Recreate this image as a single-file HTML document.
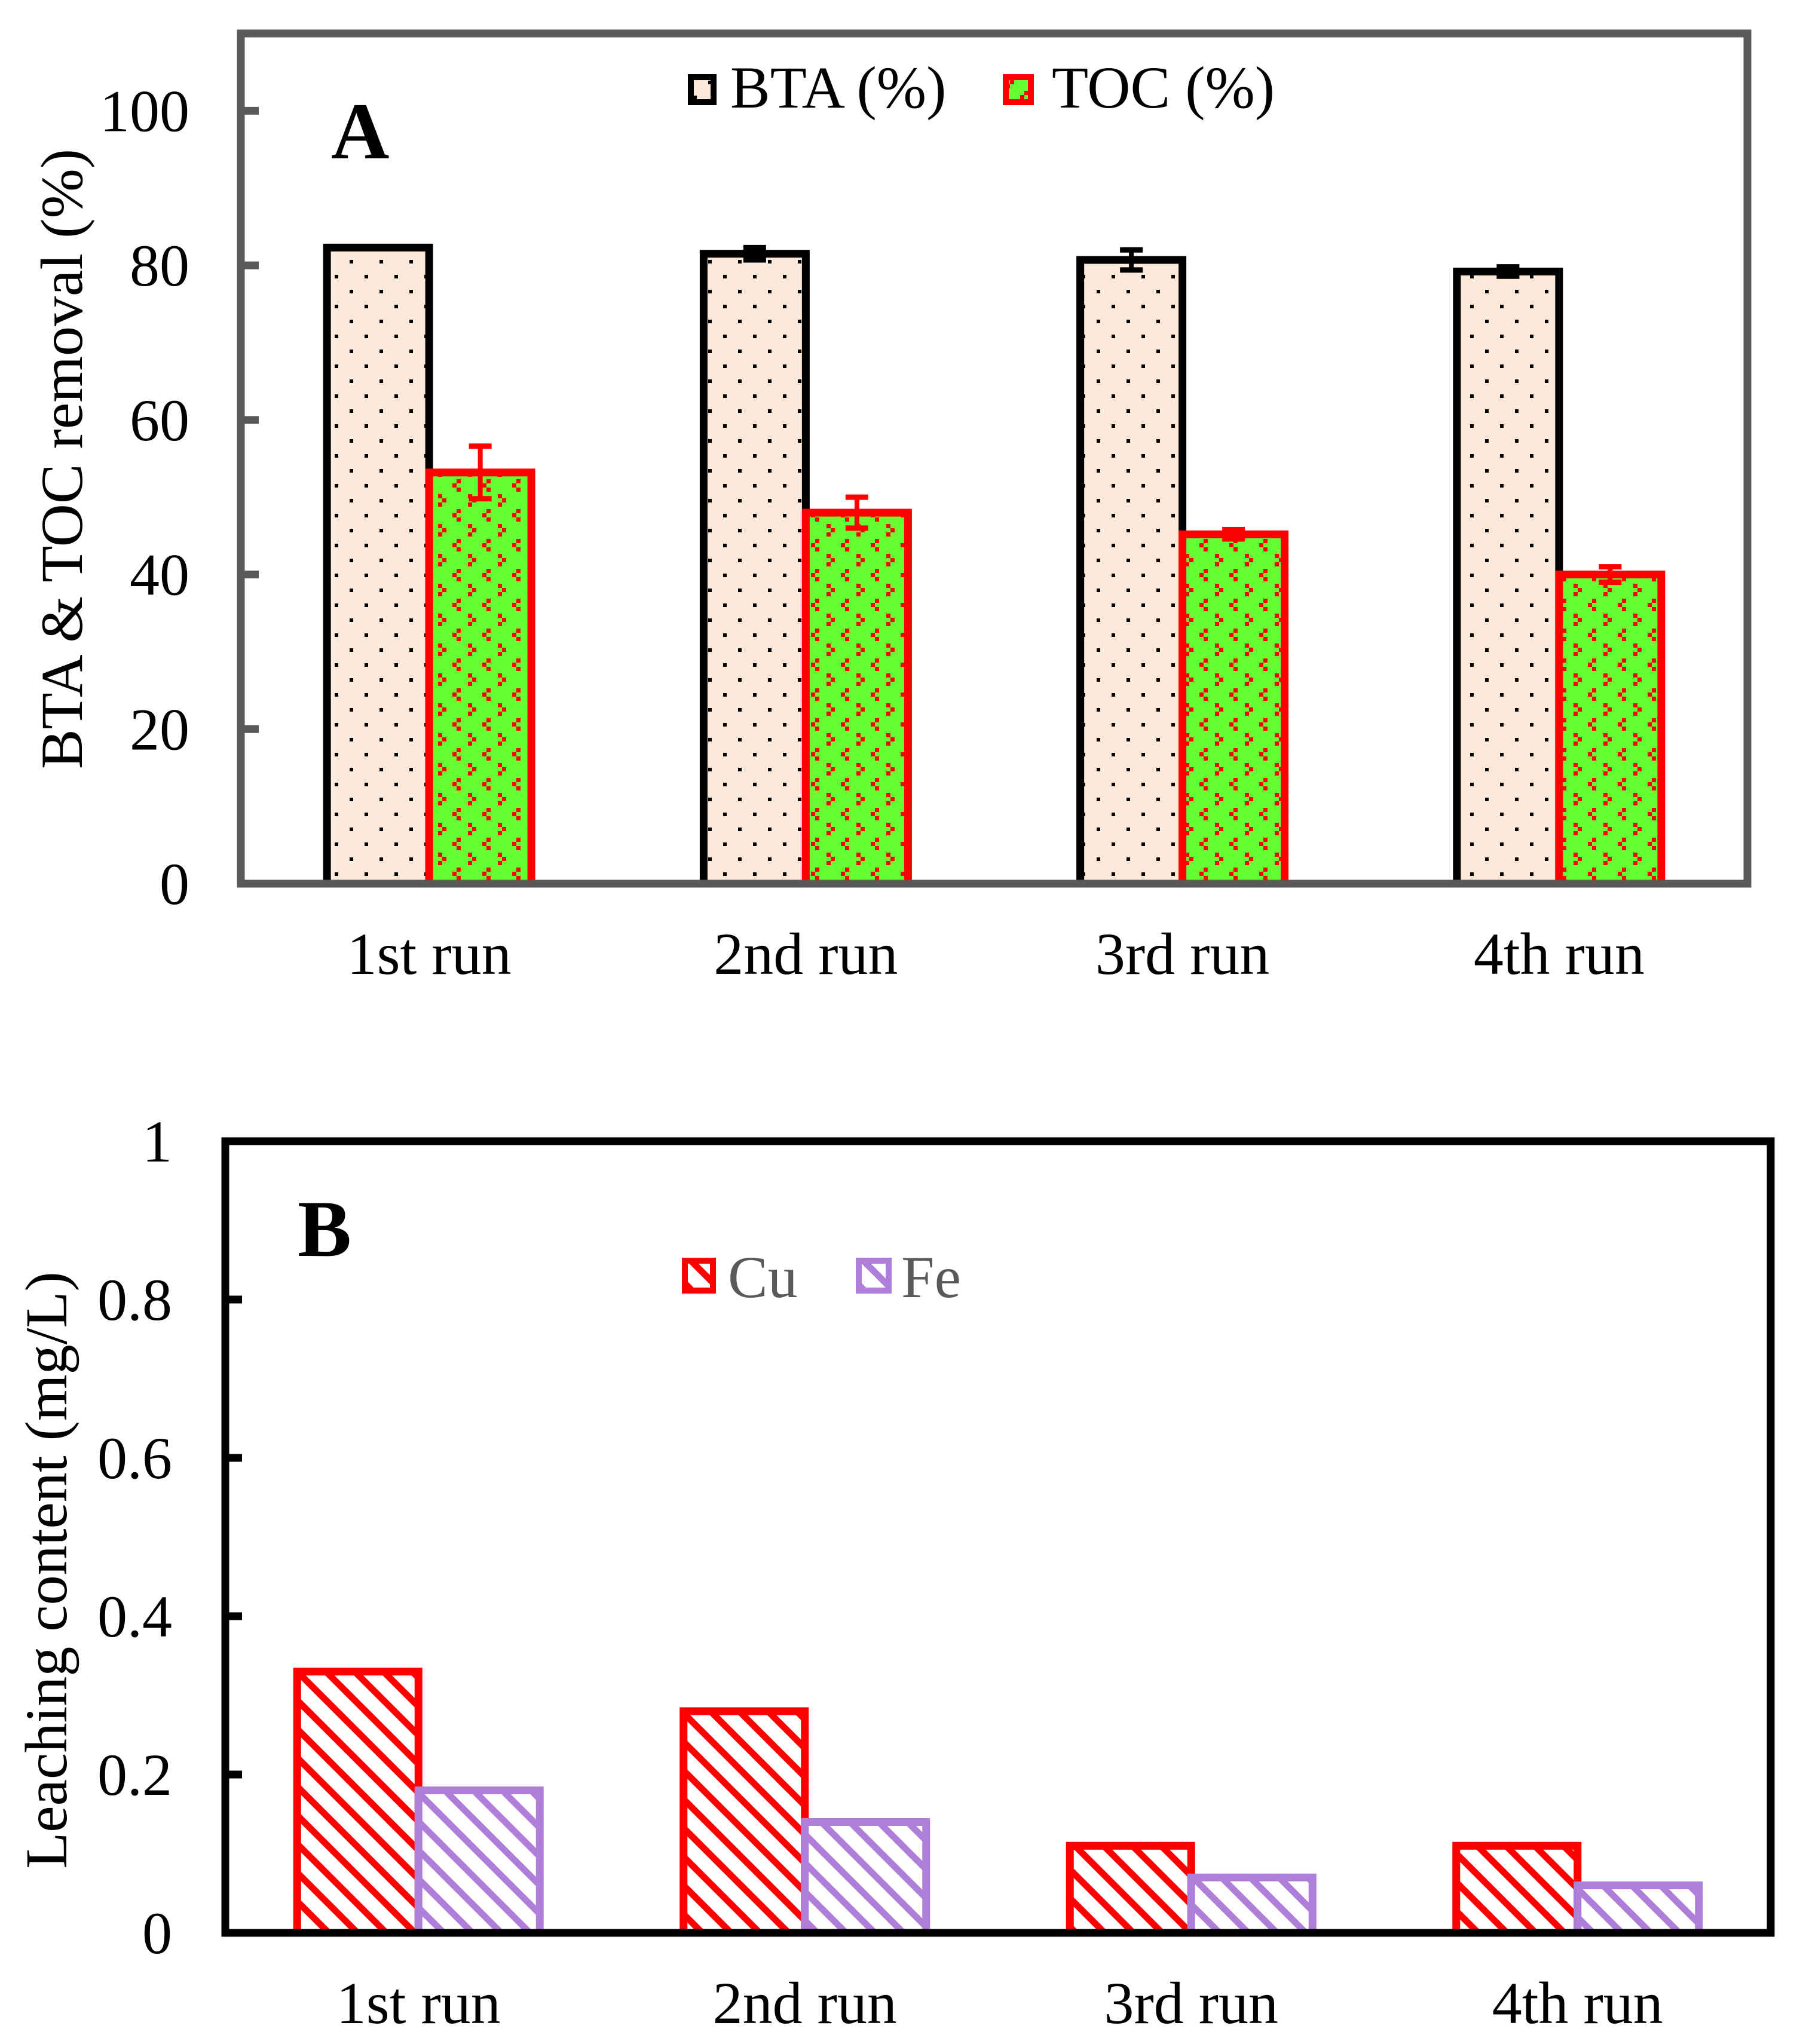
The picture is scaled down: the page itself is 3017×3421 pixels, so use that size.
<!DOCTYPE html>
<html><head><meta charset="utf-8"><style>
html,body{margin:0;padding:0;background:#fff;}
svg{display:block;}
text{font-family:"Liberation Serif","Times New Roman",serif;}
</style></head><body>
<svg id="fig" width="3017" height="3421" viewBox="0 0 3017 3421" xmlns="http://www.w3.org/2000/svg">
<defs>
<pattern id="dots" patternUnits="userSpaceOnUse" width="50" height="50">
<rect width="50" height="50" fill="#FCE9DA"/>
<rect x="10" y="10" width="6" height="6" fill="#000"/>
<rect x="35" y="35" width="6" height="6" fill="#000"/>
</pattern>
<pattern id="greenp" patternUnits="userSpaceOnUse" width="50" height="50">
<rect width="50" height="50" fill="#66FF33"/>
<rect x="14" y="2" width="7" height="7" fill="#f00"/>
<rect x="7" y="9" width="7" height="7" fill="#f00"/>
<rect x="14" y="16" width="7" height="7" fill="#f00"/>
<rect x="33" y="27" width="7" height="7" fill="#f00"/>
<rect x="40" y="34" width="7" height="7" fill="#f00"/>
<rect x="33" y="41" width="7" height="7" fill="#f00"/>
</pattern>
<pattern id="hatchRed" patternUnits="userSpaceOnUse" width="34" height="34" patternTransform="rotate(-45)">
<rect width="34" height="34" fill="#fff"/>
<rect x="0" y="0" width="11" height="34" fill="#FF0000"/>
</pattern>
<pattern id="hatchPurple" patternUnits="userSpaceOnUse" width="34" height="34" patternTransform="rotate(-45)">
<rect width="34" height="34" fill="#fff"/>
<rect x="0" y="0" width="11" height="34" fill="#AE7ED8"/>
</pattern>
</defs>
<g id="chartA"></g>
<g id="chartB"></g>
</svg>
<script>
const categories = ["1st run","2nd run","3rd run","4th run"];
const btaValues = [82.3, 81.5, 80.7, 79.2];
const btaErrors = [0.1, 0.8, 1.3, 0.6];
const tocValues = [53.2, 48.0, 45.2, 40.0];
const tocErrors = [3.4, 2.0, 0.6, 1.0];
const yTicksA = [0, 20, 40, 60, 80, 100];
const cuValues = [0.33, 0.28, 0.11, 0.11];
const feValues = [0.18, 0.14, 0.07, 0.06];
const yTicksB = [0, 0.2, 0.4, 0.6, 0.8, 1];
const yTickLabelsB = ["0", "0.2", "0.4", "0.6", "0.8", "1"];

const NS = "http://www.w3.org/2000/svg";
function mk(parent, tag, attrs, txt){
  const e = document.createElementNS(NS, tag);
  for (const k in attrs) e.setAttribute(k, attrs[k]);
  if (txt !== undefined) e.textContent = txt;
  parent.appendChild(e);
  return e;
}

// ---- Chart A ----
(function(){
  const g = document.getElementById('chartA');
  const L=403, R=2924, T=56, B=1479, yMax=110;
  const y = v => B - v/yMax*(B-T);
  const bw = (R-L)/categories.length;
  const cx = i => L + bw*(i+0.5);
  const barW = 171;
  categories.forEach((c,i)=>{
    const r1 = mk(g,'rect',{x:cx(i)-barW,y:y(btaValues[i]),width:barW,height:B-y(btaValues[i]),fill:'url(#dots)',stroke:'#000','stroke-width':13});
    
    
    const r2 = mk(g,'rect',{x:cx(i),y:y(tocValues[i]),width:barW,height:B-y(tocValues[i]),fill:'url(#greenp)',stroke:'#FF0000','stroke-width':13});
    
    
    [[cx(i)-barW/2,btaValues[i],btaErrors[i],'#000'],[cx(i)+barW/2,tocValues[i],tocErrors[i],'#FF0000']].forEach((e,k)=>{
      const eg = mk(g,'g',{stroke:e[3],'stroke-width':8});
      
      
      mk(eg,'line',{x1:e[0],x2:e[0],y1:y(e[1]+e[2]),y2:y(e[1]-e[2])});
      mk(eg,'line',{x1:e[0]-19,x2:e[0]+19,y1:y(e[1]+e[2]),y2:y(e[1]+e[2]),'stroke-width':9});
      mk(eg,'line',{x1:e[0]-19,x2:e[0]+19,y1:y(e[1]-e[2]),y2:y(e[1]-e[2]),'stroke-width':9});
    });
    const t = mk(g,'text',{x:cx(i),y:1630,'font-size':100,'text-anchor':'middle'},c);
    
    
  });
  const fr = mk(g,'rect',{x:L,y:T,width:R-L,height:B-T,fill:'none',stroke:'#595959','stroke-width':13});
  
  
  yTicksA.forEach(v=>{
    const tk = mk(g,'line',{x1:L,x2:L+30,y1:y(v),y2:y(v),stroke:'#595959','stroke-width':13});
    
    
    const tl = mk(g,'text',{x:317,y:y(v)+34,'font-size':100,'text-anchor':'end'},String(v));
    
    
  });
})();

// ---- Chart B ----
(function(){
  const g = document.getElementById('chartB');
  const L=377, R=2963, T=1910, B=3235, yMax=1;
  const y = v => B - v/yMax*(B-T);
  const bw = (R-L)/categories.length;
  const cx = i => L + bw*(i+0.5);
  const barW = 203;
  categories.forEach((c,i)=>{
    const r1 = mk(g,'rect',{x:cx(i)-barW,y:y(cuValues[i]),width:barW,height:B-y(cuValues[i]),fill:'url(#hatchRed)',stroke:'#FF0000','stroke-width':13});
    
    
    const r2 = mk(g,'rect',{x:cx(i),y:y(feValues[i]),width:barW,height:B-y(feValues[i]),fill:'url(#hatchPurple)',stroke:'#AE7ED8','stroke-width':13});
    
    
    const t = mk(g,'text',{x:cx(i),y:3386,'font-size':100,'text-anchor':'middle'},c);
    
    
  });
  const fr = mk(g,'rect',{x:L,y:T,width:R-L,height:B-T,fill:'none',stroke:'#000','stroke-width':13});
  
  
  yTicksB.forEach((v,k)=>{
    const tk = mk(g,'line',{x1:L,x2:L+28,y1:y(v),y2:y(v),stroke:'#000','stroke-width':13});
    
    
    const tl = mk(g,'text',{x:288,y:y(v)+34,'font-size':100,'text-anchor':'end'},yTickLabelsB[k]);
    
    
  });
})();
</script>
<script>
(function(){
  const svg = document.getElementById('fig');
  svg.insertAdjacentHTML('beforeend', `
  <text x="137" y="768" font-size="100" text-anchor="middle" transform="rotate(-90 137 768)">BTA &amp; TOC removal (%)</text>
  <text x="554" y="265" font-size="135" font-weight="bold">A</text>
  <g>
    <rect x="1156" y="129" width="38" height="42" fill="url(#dots)" stroke="#000" stroke-width="10"/>
    <text x="1222" y="180" font-size="100">BTA (%)</text>
    <rect x="1683" y="129" width="42" height="42" fill="url(#greenp)" stroke="#FF0000" stroke-width="10"/>
    <text x="1760" y="180" font-size="100">TOC (%)</text>
  </g>
  <text x="111" y="2628" font-size="100" text-anchor="middle" transform="rotate(-90 111 2628)">Leaching content (mg/L)</text>
  <text x="498" y="2102" font-size="135" font-weight="bold">B</text>
  <g>
    <rect x="1146" y="2110" width="47" height="50" fill="url(#hatchRed)" stroke="#FF0000" stroke-width="10"/>
    <text x="1218" y="2171" font-size="100" fill="#595959">Cu</text>
    <rect x="1437" y="2110" width="50" height="50" fill="url(#hatchPurple)" stroke="#AE7ED8" stroke-width="10"/>
    <text x="1508" y="2171" font-size="100" fill="#595959">Fe</text>
  </g>`);
})();
</script>
</body></html>
